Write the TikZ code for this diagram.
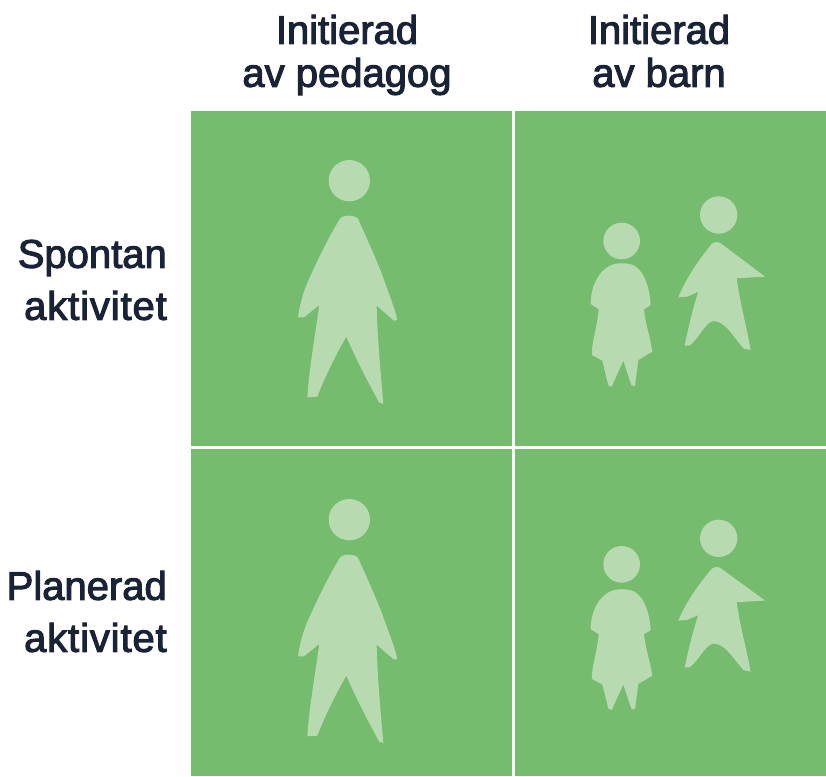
\documentclass[tikz,border=0pt]{standalone}
\usepackage{fontspec}
\setmainfont{Liberation Sans}[BoldFont={Liberation Sans},BoldFeatures={FakeBold=2.6}]
\definecolor{panel}{HTML}{75BC6E}
\definecolor{fig}{HTML}{B8DAB0}
\definecolor{ink}{HTML}{1A2236}
\tikzset{
  panelbox/.style={fill=panel,draw=none,inner sep=0pt,outer sep=0pt},
  figure/.style={fill=fig,draw=none},
  collabel/.style={font=\fontsize{40}{43}\selectfont\bfseries,text=ink,inner sep=0pt,align=center,text depth=0pt,anchor=south},
  rowlabel/.style={font=\fontsize{40}{52}\selectfont\bfseries,text=ink,inner sep=0pt,align=right,text depth=0pt,anchor=south east}
}
\newcommand{\spaced}[1]{{\addfontfeature{LetterSpace=2.2}#1}}
\newcommand{\adult}{%
  \fill[figure] (208,122) circle (62);
  \fill[figure] (180,236) .. controls (190,224) and (222,224) .. (234,236)
   .. controls (258,290) and (285,350) .. (305,400)
   .. controls (320,445) and (340,490) .. (352,540) -- (342,542) -- (290,497)
   .. controls (292,590) and (302,700) .. (310,792) -- (298,788)
   .. controls (260,720) and (225,650) .. (199,590)
   .. controls (170,640) and (135,710) .. (112,770) -- (82,772)
   .. controls (88,680) and (105,590) .. (118,495) -- (72,532) -- (54,532)
   .. controls (60,485) and (75,440) .. (95,400)
   .. controls (120,345) and (150,285) .. (180,236) -- cycle;}
\newcommand{\girlhead}[1]{\fill[figure] (155,#1) circle (55);}
\newcommand{\girlbody}{%
  \fill[figure] (118,258) .. controls (135,247) and (175,247) .. (195,258)
   .. controls (225,280) and (238,320) .. (242,375) -- (222,388)
   .. controls (226,430) and (240,470) .. (247,515) -- (205,540)
   -- (195,618) -- (184,616) -- (160,542) -- (125,620) -- (115,616) -- (97,542)
   -- (66,525) .. controls (62,500) and (82,440) .. (86,388) -- (62,372)
   .. controls (62,320) and (85,275) .. (118,258) -- cycle;}
\newcommand{\boyhead}[1]{\fill[figure] (446,#1) circle (56);}
\newcommand{\boybody}{%
  \fill[figure] (425,192) .. controls (435,184) and (445,184) .. (455,192)
   -- (585,290) -- (500,295) .. controls (510,370) and (530,440) .. (542,510)
   -- (522,506) .. controls (495,480) and (470,425) .. (432,423)
   .. controls (405,425) and (385,480) .. (358,497) -- (344,497)
   .. controls (358,430) and (370,380) .. (385,335) -- (352,350) -- (325,352)
   .. controls (350,290) and (390,235) .. (425,192) -- cycle;}
\begin{document}
\begin{tikzpicture}[x=1pt,y=-1pt]
\useasboundingbox (0,0) rectangle (826,776);
\path[fill=white] (0,0) rectangle (826,776);
\node[panelbox,minimum width=320.5pt,minimum height=334.7pt,anchor=north west] (p11) at (191,111) {};
\node[panelbox,minimum width=311pt,minimum height=334.7pt,anchor=north west] (p12) at (515,111) {};
\node[panelbox,minimum width=320.5pt,minimum height=327pt,anchor=north west] (p21) at (191,449) {};
\node[panelbox,minimum width=311pt,minimum height=327pt,anchor=north west] (p22) at (515,449) {};
\begin{scope}[shift={(280,140)},x=0.3333pt,y=-0.3333pt]\adult\end{scope}
\begin{scope}[shift={(280,479)},x=0.3333pt,y=-0.3333pt]\adult\end{scope}
\begin{scope}[shift={(570,180)},x=0.3333pt,y=-0.3333pt]\girlhead{183}\girlbody\boyhead{105}\boybody\end{scope}
\begin{scope}[shift={(570,505)},x=0.3333pt,y=-0.3333pt]\girlhead{178}\boyhead{100}\end{scope}
\begin{scope}[shift={(570,507.8)},x=0.3333pt,y=-0.326pt]\girlbody\end{scope}
\begin{scope}[shift={(570,506.9)},x=0.3333pt,y=-0.323pt]\boybody\end{scope}
\node[collabel] (c1) at (347,87) {Initierad\\av pedagog};
\node[collabel] (c2) at (659,87) {Initierad\\av barn};
\node[rowlabel] (r1) at (167,320) {Spontan\\\spaced{aktivitet}};
\node[rowlabel] (r2) at (167,652) {Planerad\\\spaced{aktivitet}};
\end{tikzpicture}
\end{document}
